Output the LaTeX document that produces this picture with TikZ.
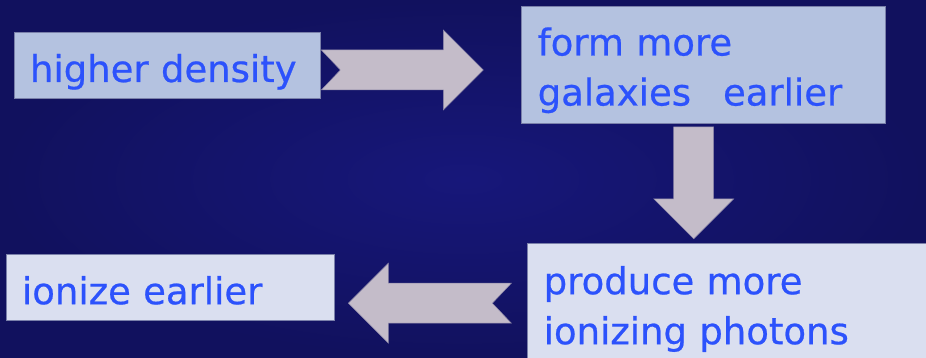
\documentclass[tikz,border=0pt]{standalone}
\usepackage{fontspec}
\setmainfont{DejaVu Sans}
\usetikzlibrary{positioning, calc}
\definecolor{skyNavy}{HTML}{17177A}
\definecolor{skyDeep}{HTML}{11115E}
\definecolor{boxBlue}{HTML}{B4C2E0}
\definecolor{boxPale}{HTML}{DADFF0}
\definecolor{boxEdge}{HTML}{7A80AA}
\definecolor{textBlue}{HTML}{2C52FC}
\definecolor{arrowFill}{HTML}{C4BCC9}
\definecolor{arrowEdge}{HTML}{8A84A6}

\begin{document}
\begin{tikzpicture}[
  x=1pt, y=1pt,
  box/.style={draw=boxEdge, line width=0.7pt, align=left, inner xsep=16pt,
              inner ysep=0pt, text=textBlue,
              font=\fontsize{37}{50}\selectfont\addfontfeature{FakeBold=0.6}},
  hi/.style={box, fill=boxBlue},
  lo/.style={box, fill=boxPale},
  blockar/.style={fill=arrowFill, draw=arrowEdge, line width=0.5pt,
    to path={let \p1=(\tikztostart), \p2=(\tikztotarget),
      \p3=($(\p2)!40pt!(\p1)$), \p4=($(\p1)!#1!(\p2)$) in
      ($(\p1)!20pt!90:(\p2)$) -- ($(\p3)!20pt!90:(\p2)$) -- ($(\p3)!40pt!90:(\p2)$)
      -- (\p2) -- ($(\p3)!40pt!-90:(\p2)$) -- ($(\p3)!20pt!-90:(\p2)$)
      -- ($(\p1)!20pt!-90:(\p2)$) -- (\p4) -- cycle}},
  blockar/.default=0pt
]
\path[use as bounding box] (0,0) rectangle (926,358);
\clip (0,0) rectangle (926,358);
\shade[inner color=skyNavy, outer color=skyDeep] (0,0) rectangle (926,358);

\node[hi, text width=274pt, text height=50pt, text depth=16pt] (dens) at (167,293) {higher density};
\node[hi, text width=332pt, text height=49pt, text depth=68pt, right=201pt of dens] (gal)
  {form more\\ galaxies\hspace{32pt}earlier};
\node[lo, text width=376pt, text height=51pt, text depth=76pt,
      below=119pt of gal.south west, anchor=north west, xshift=6pt] (phot)
  {produce more\\ ionizing photons};
\node[lo, text width=296pt, text height=50pt, text depth=16pt,
      left=193pt of phot.north west, anchor=north east, yshift=-11pt] (ion) {ionize earlier};

\draw[blockar=19pt] ($(dens.east)+(1pt,-5pt)$) to ($(gal.west |- dens.east)+(-38pt,-5pt)$);
\draw[blockar] ($(gal.south)+(-10pt,-3pt)$) to ($(gal.south |- phot.north)+(-10pt,4pt)$);
\draw[blockar=19pt] ($(phot.west)+(-16pt,3.5pt)$) to ($(ion.east |- phot.west)+(14pt,3.5pt)$);
\end{tikzpicture}
\end{document}
